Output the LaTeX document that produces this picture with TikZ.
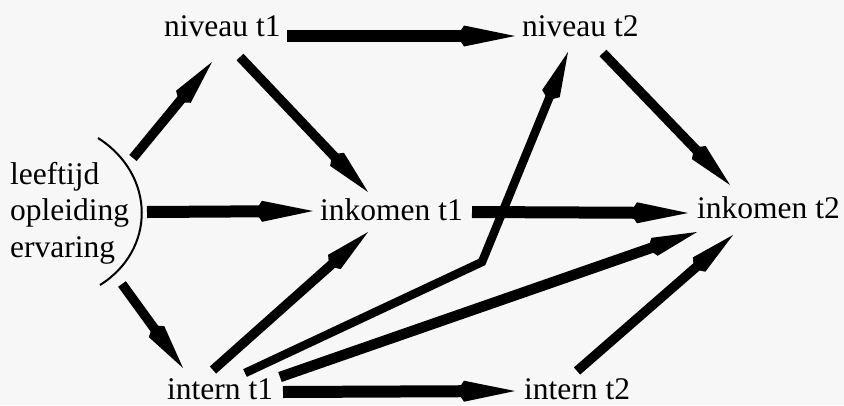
\documentclass[tikz,border=0pt]{standalone}
\usepackage{fontspec}
\setmainfont{Liberation Serif}
\usetikzlibrary{arrows.meta}
\begin{document}
\begin{tikzpicture}[x=1pt,y=-1pt,
  lbl/.style={anchor=base west,inner sep=0pt,font=\fontsize{31.5}{37}\selectfont},
  arr/.style={line width=9.5pt,-{Kite[length=52pt,width=19pt,inset=7pt]}},
  arrh/.style={line width=12pt,-{Kite[length=58pt,width=21pt,inset=7pt]}}]
\fill[black!3] (0,0) rectangle (844,405);
\useasboundingbox (0,0) rectangle (844,405);
% nodes
\node[lbl] (nt1) at (164,36) {niveau t1};
\node[lbl] (nt2) at (522,36) {niveau t2};
\node[lbl] (l1) at (10,184) {leeftijd};
\node[lbl] (l2) at (10,220) {opleiding};
\node[lbl] (l3) at (10,257) {ervaring};
\node[lbl] (ik1) at (320,220) {inkomen t1};
\node[lbl] (ik2) at (697,218) {inkomen t2};
\node[lbl] (it1) at (167,399) {intern t1};
\node[lbl] (it2) at (524,399) {intern t2};
% bracket
\draw[line width=2pt] (98,138) .. controls (156,175) and (156,250) .. (100,285);
\coordinate (brtop) at (133,158);
\coordinate (brmid) at (147,212);
\coordinate (brbot) at (122,284);
\coordinate (bend) at (482,262);
% arrows
\draw[arrh] ([shift={(123,0)}]nt1.base west) -- ([shift={(-7,0)}]nt2.base west);
\draw[arr] (brtop) -- ([shift={(48,26)}]nt1.base west);
\draw[arrh] (brmid) -- ([shift={(-7,-9)}]ik1.base west);
\draw[arr] (brbot) -- ([shift={(16,-31)}]it1.base west);
\draw[arr] ([shift={(76,21)}]nt1.base west) -- ([shift={(48,-28)}]ik1.base west);
\draw[arr] ([shift={(46,-29)}]it1.base west) -- ([shift={(48,12)}]ik1.base west);
\draw[arrh] ([shift={(152,-8)}]ik1.base west) -- ([shift={(-9,-5)}]ik2.base west);
\draw[arr] ([shift={(81,17)}]nt2.base west) -- ([shift={(33,-33)}]ik2.base west);
\draw[arr,line width=8.5pt] ([shift={(78,-26)}]it1.base west) -- (bend) -- ([shift={(46,16)}]nt2.base west);
\draw[arr,line width=10.5pt] ([shift={(113,-22)}]it1.base west) -- ([shift={(0,14)}]ik2.base west);
\draw[arrh] ([shift={(116,-7)}]it1.base west) -- ([shift={(-9,-8)}]it2.base west);
\draw[arr] ([shift={(53,-28)}]it2.base west) -- ([shift={(36,17)}]ik2.base west);
\end{tikzpicture}
\end{document}
